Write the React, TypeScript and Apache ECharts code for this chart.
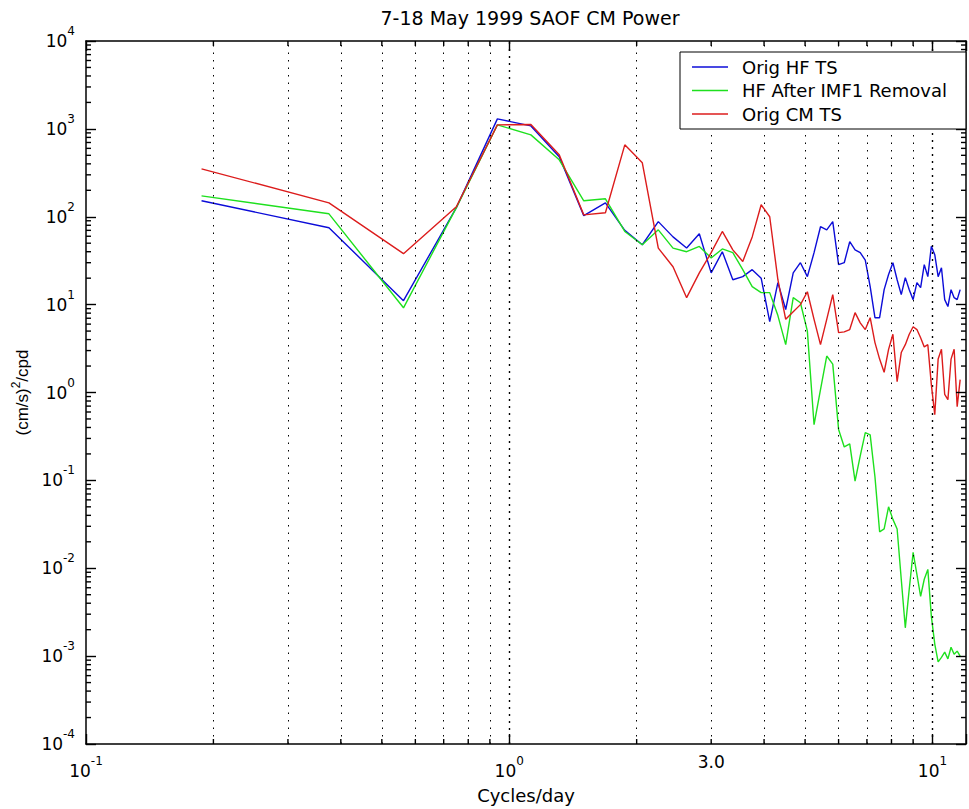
import React, { useEffect, useRef } from 'react';
import * as echarts from 'echarts';

// Frequencies (cycles/day)
const freq = [
  0.1875, 0.375, 0.5625, 0.75, 0.9375, 1.125, 1.3125, 1.5, 1.6875, 1.875,
  2.0625, 2.25, 2.4375, 2.625, 2.8125, 3.0, 3.1875, 3.375, 3.5625, 3.75,
  3.9375, 4.125, 4.3125, 4.5, 4.6875, 4.875, 5.0625, 5.25, 5.4375, 5.625,
  5.8125, 6.0, 6.1875, 6.375, 6.5625, 6.75, 6.9375, 7.125, 7.3125, 7.5,
  7.6875, 7.875, 8.0625, 8.25, 8.4375, 8.625, 8.8125, 9.0, 9.1875, 9.375,
  9.5625, 9.75, 9.9375, 10.125, 10.3125, 10.5, 10.6875, 10.875, 11.0625, 11.25,
  11.4375, 11.625,
];

// Power spectra, (cm/s)^2/cpd
const origHF = [
  152, 75, 11.1, 127, 1300, 1080, 481, 103, 144, 70,
  48, 88, 59, 44, 64, 23, 40, 19.2, 20.8, 25,
  20, 6.4, 17.8, 8.8, 23, 30, 20.8, 39, 77, 71,
  88, 28.5, 30, 52, 42, 39, 32, 16, 7.1, 7.1,
  14.8, 22, 30, 19.2, 13, 20.3, 14.8, 11.4, 17.8, 15.6,
  28.5, 20.8, 46, 37, 20.8, 26.3, 11.4, 9.5, 14.8, 12,
  11.4, 14.8,
];

const hfAfterIMF1 = [
  173, 108, 9.2, 127, 1110, 855, 445, 152, 160, 68,
  48, 71, 44, 40, 46, 34, 43, 39, 25, 16,
  13.7, 13.7, 7.5, 3.5, 12, 10.5, 5, 0.43, 1.08, 2.6,
  2.1, 0.38, 0.24, 0.26, 0.098, 0.19, 0.35, 0.33, 0.11, 0.026,
  0.028, 0.05, 0.036, 0.028, 0.0075, 0.0021, 0.0058, 0.0152, 0.0085, 0.0048,
  0.0075, 0.0097, 0.00285, 0.00137, 0.00086, 0.00097, 0.00111, 0.00093, 0.00126, 0.00105,
  0.00114, 0.001,
];

const origCM = [
  351, 144, 38, 130, 1110, 1120, 507, 105, 111, 658,
  411, 44, 27, 12, 23, 39, 68, 42, 31, 59,
  137, 100, 19.2, 6.8, 8.3, 10, 14, 6.8, 3.5, 6.8,
  13, 4.8, 4.9, 5.2, 8.1, 6.2, 5.2, 7.1, 3.7, 2.4,
  1.7, 3.1, 4.6, 1.33, 2.85, 3.5, 4.6, 5.6, 5.2, 4.2,
  3.3, 3.5, 1.23, 0.56, 2.4, 3.1, 0.95, 0.83, 2.4, 3.1,
  0.69, 1.4,
];

const seriesNames = ['Orig HF TS', 'HF After IMF1 Removal', 'Orig CM TS'];
const seriesColors = ['#0c0cd8', '#1ee01e', '#dc1c1c'];

// Axis ranges
const xMin = 0.1;
const xMax = 12;
const yMin = 1e-4;
const yMax = 1e4;

// Vertical dotted grid lines (cycles/day)
const xGridMinor = [0.2, 0.3, 0.4, 0.5, 0.6, 0.7, 0.8, 0.9, 2, 3, 4, 5, 6, 7, 8, 9];
const xGridMajor = [1, 10];
// Minor tick marks
const xMinorTicks = [0.2, 0.3, 0.4, 0.5, 0.6, 0.7, 0.8, 0.9, 2, 3, 4, 5, 6, 7, 8, 9];
const yMinorMantissas = [2, 3, 4, 5, 6, 7, 8, 9];
const yDecades = [-4, -3, -2, -1, 0, 1, 2, 3];
// Extra x tick label
const xExtraLabelValue = 3;
const xExtraLabelText = '3.0';

const FONT = 'DejaVu Sans';
const MAJOR_LEN = 10;
const MINOR_LEN = 5;

function powLabel(v: number) {
  const e = Math.log10(v);
  const r = Math.round(e);
  if (Math.abs(e - r) > 1e-6) return '';
  return '{b|10}{s|' + r + '}';
}

const labelRich = {
  b: { fontSize: 17, fontFamily: FONT, color: '#000' },
  s: { fontSize: 12, fontFamily: FONT, color: '#000', padding: [0, 0, 20, 0] },
};

const majorTick = { show: true, inside: true, length: MAJOR_LEN, lineStyle: { color: '#000', width: 1.4 } };
const axisLineStyle = { show: true, lineStyle: { color: '#000', width: 1.5 } };

export default function App() {
  const ref = useRef<HTMLDivElement>(null);

  useEffect(() => {
    if (!ref.current) return;
    const chart = echarts.init(ref.current, null, { renderer: 'svg' });

    const dataSeries = [origHF, hfAfterIMF1, origCM].map((vals, si) => ({
      name: seriesNames[si],
      type: 'line',
      data: freq.map((f, i) => [f, vals[i]]),
      symbol: 'none',
      showSymbol: false,
      silent: true,
      z: 3 + si,
      lineStyle: { color: seriesColors[si], width: 1.4 },
      itemStyle: { color: seriesColors[si] },
    }));

    const xBase = {
      type: 'log',
      logBase: 10,
      min: xMin,
      max: xMax,
      splitLine: { show: false },
      axisTick: majorTick,
      axisLine: axisLineStyle,
      z: 20,
    };
    const yBase = {
      type: 'log',
      logBase: 10,
      min: yMin,
      max: yMax,
      splitLine: { show: false },
      axisTick: majorTick,
      axisLine: axisLineStyle,
      z: 20,
    };

    const option: any = {
      animation: false,
      backgroundColor: '#fff',
      title: {
        text: '7-18 May 1999 SAOF CM Power',
        left: 530,
        top: 8,
        padding: 0,
        textAlign: 'center',
        textStyle: { fontFamily: FONT, fontSize: 19, fontWeight: 'normal', color: '#000' },
      },
      legend: {
        data: seriesNames.map((n, i) => ({ name: n, itemStyle: { color: seriesColors[i] } })),
        orient: 'vertical',
        left: 680,
        top: 52,
        padding: [6, 19, 6, 12],
        icon: 'rect',
        itemWidth: 36,
        itemHeight: 1.4,
        itemGap: 5.5,
        selectedMode: false,
        backgroundColor: '#fff',
        borderColor: '#000',
        borderWidth: 1,
        borderRadius: 0,
        textStyle: { fontFamily: FONT, fontSize: 18, color: '#000', lineHeight: 18, padding: [0, 0, 0, 9] },
        z: 30,
      },
      grid: {
        left: 86,
        top: 41,
        right: -9,
        bottom: 64,
        show: false,
      },
      xAxis: [
        {
          ...xBase,
          position: 'bottom',
          axisLabel: { margin: 11, formatter: powLabel, rich: labelRich, color: '#000' },
          name: 'Cycles/day',
          nameLocation: 'middle',
          nameGap: 42,
          nameTextStyle: { fontFamily: FONT, fontSize: 18, color: '#000' },
        },
        {
          ...xBase,
          position: 'top',
          axisLabel: { show: false },
        },
      ],
      yAxis: [
        {
          ...yBase,
          position: 'left',
          axisLabel: { margin: 11, formatter: powLabel, rich: labelRich, color: '#000' },
          name: '{n|(cm/s)}{s|2}{n|/cpd}',
          nameLocation: 'middle',
          nameRotate: 90,
          nameGap: 45,
          nameTextStyle: {
            color: '#000',
            rich: {
              n: { fontSize: 17, fontFamily: 'Liberation Sans', color: '#000' },
              s: { fontSize: 12, fontFamily: 'Liberation Sans', color: '#000', padding: [0, 0, 12, 0] },
            },
          },
        },
        {
          ...yBase,
          position: 'right',
          axisLabel: { show: false },
        },
      ],
      series: [
        {
          type: 'line',
          data: [],
          silent: true,
          z: 1,
          markLine: {
            silent: true,
            symbol: ['none', 'none'],
            label: { show: false },
            lineStyle: { color: '#000', type: [1.5, 6], width: 1 },
            data: [
              ...xGridMinor.map((v) => ({ xAxis: v })),
              ...xGridMajor.map((v) => ({ xAxis: v, lineStyle: { color: '#000', type: [2, 5], width: 1.4 } })),
            ],
          },
        },
        ...dataSeries,
      ],
    };

    chart.setOption(option);

    // Minor tick marks, positioned through the axes' own scales
    const toPx = (v: number) => chart.convertToPixel({ xAxisIndex: 0 }, v) as number;
    const toPy = (v: number) => chart.convertToPixel({ yAxisIndex: 0 }, v) as number;
    const left = toPx(xMin);
    const right = toPx(xMax);
    const top = toPy(yMax);
    const bottom = toPy(yMin);

    const els: any[] = [];
    const line = (x1: number, y1: number, x2: number, y2: number) => ({
      type: 'line',
      z: 25,
      shape: { x1, y1, x2, y2 },
      style: { stroke: '#000', lineWidth: 1.4, fill: null },
    });
    xMinorTicks.forEach((v) => {
      const x = toPx(v);
      els.push(line(x, bottom, x, bottom - MINOR_LEN));
      els.push(line(x, top, x, top + MINOR_LEN));
    });
    yDecades.forEach((d) =>
      yMinorMantissas.forEach((m) => {
        const y = toPy(m * Math.pow(10, d));
        els.push(line(left, y, left + MINOR_LEN, y));
        els.push(line(right, y, right - MINOR_LEN, y));
      })
    );
    els.push({
      type: 'text',
      z: 25,
      x: toPx(xExtraLabelValue),
      y: bottom + 18,
      style: {
        text: xExtraLabelText,
        fill: '#000',
        fontSize: 17,
        fontFamily: FONT,
        align: 'center',
        verticalAlign: 'middle',
      },
    });
    chart.setOption({ graphic: els });

    return () => chart.dispose();
  }, []);

  return (
    <div
      ref={ref}
      style={{ position: 'fixed', left: 0, top: 0, width: 969, height: 809, background: '#fff' }}
    />
  );
}
